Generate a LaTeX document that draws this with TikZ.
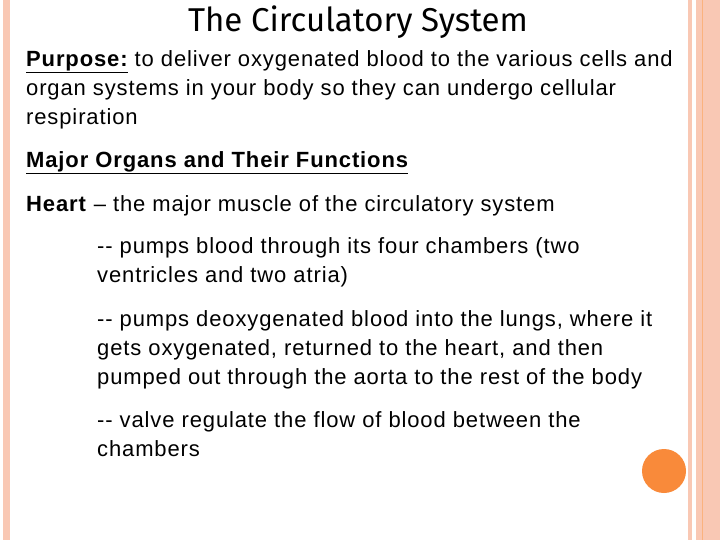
\documentclass[tikz,border=0pt]{standalone}
\usepackage{fontspec}
\setmainfont[LetterSpace=4]{Liberation Sans}
\newfontfamily\titlefont{Fira Sans}
\definecolor{strip}{HTML}{F9C8B4}
\definecolor{dot}{HTML}{F98A3A}
\begin{document}
\begin{tikzpicture}[x=1pt,y=-1pt,
  body/.style={anchor=north west,inner sep=0pt,align=left,font=\fontsize{22}{29}\selectfont}]
\useasboundingbox (0,0) rectangle (720,540);
\fill[white] (0,0) rectangle (720,540);
\fill[strip] (3,0) rectangle (10,540);
\fill[strip] (688,0) rectangle (692,540);
\fill[strip] (696,0) rectangle (720,540);
\draw[strip!70!orange,line width=1pt] (702,0) -- (702,540);
\fill[dot] (664,471) circle (22);
\node[anchor=north,inner sep=0pt,font=\titlefont\fontsize{33}{38}\selectfont] (title) at (358,6) {The Circulatory System};
\node[body] (p) at (26,50) {\textbf{\underline{Purpose:}} to deliver oxygenated blood to the various cells and\\organ systems in your body so they can undergo cellular\\respiration};
\node[body] (m) at (26,151) {\textbf{\underline{Major Organs and Their Functions}}};
\node[body] (h) at (26,195) {\textbf{Heart} -- the major muscle of the circulatory system};
\node[body] (a) at (97,237) {-{}- pumps blood through its four chambers (two\\ventricles and two atria)};
\node[body] (b) at (97,310) {-{}- pumps deoxygenated blood into the lungs, where it\\gets oxygenated, returned to the heart, and then\\pumped out through the aorta to the rest of the body};
\node[body] (c) at (97,411) {-{}- valve regulate the flow of blood between the\\chambers};
\end{tikzpicture}
\end{document}
